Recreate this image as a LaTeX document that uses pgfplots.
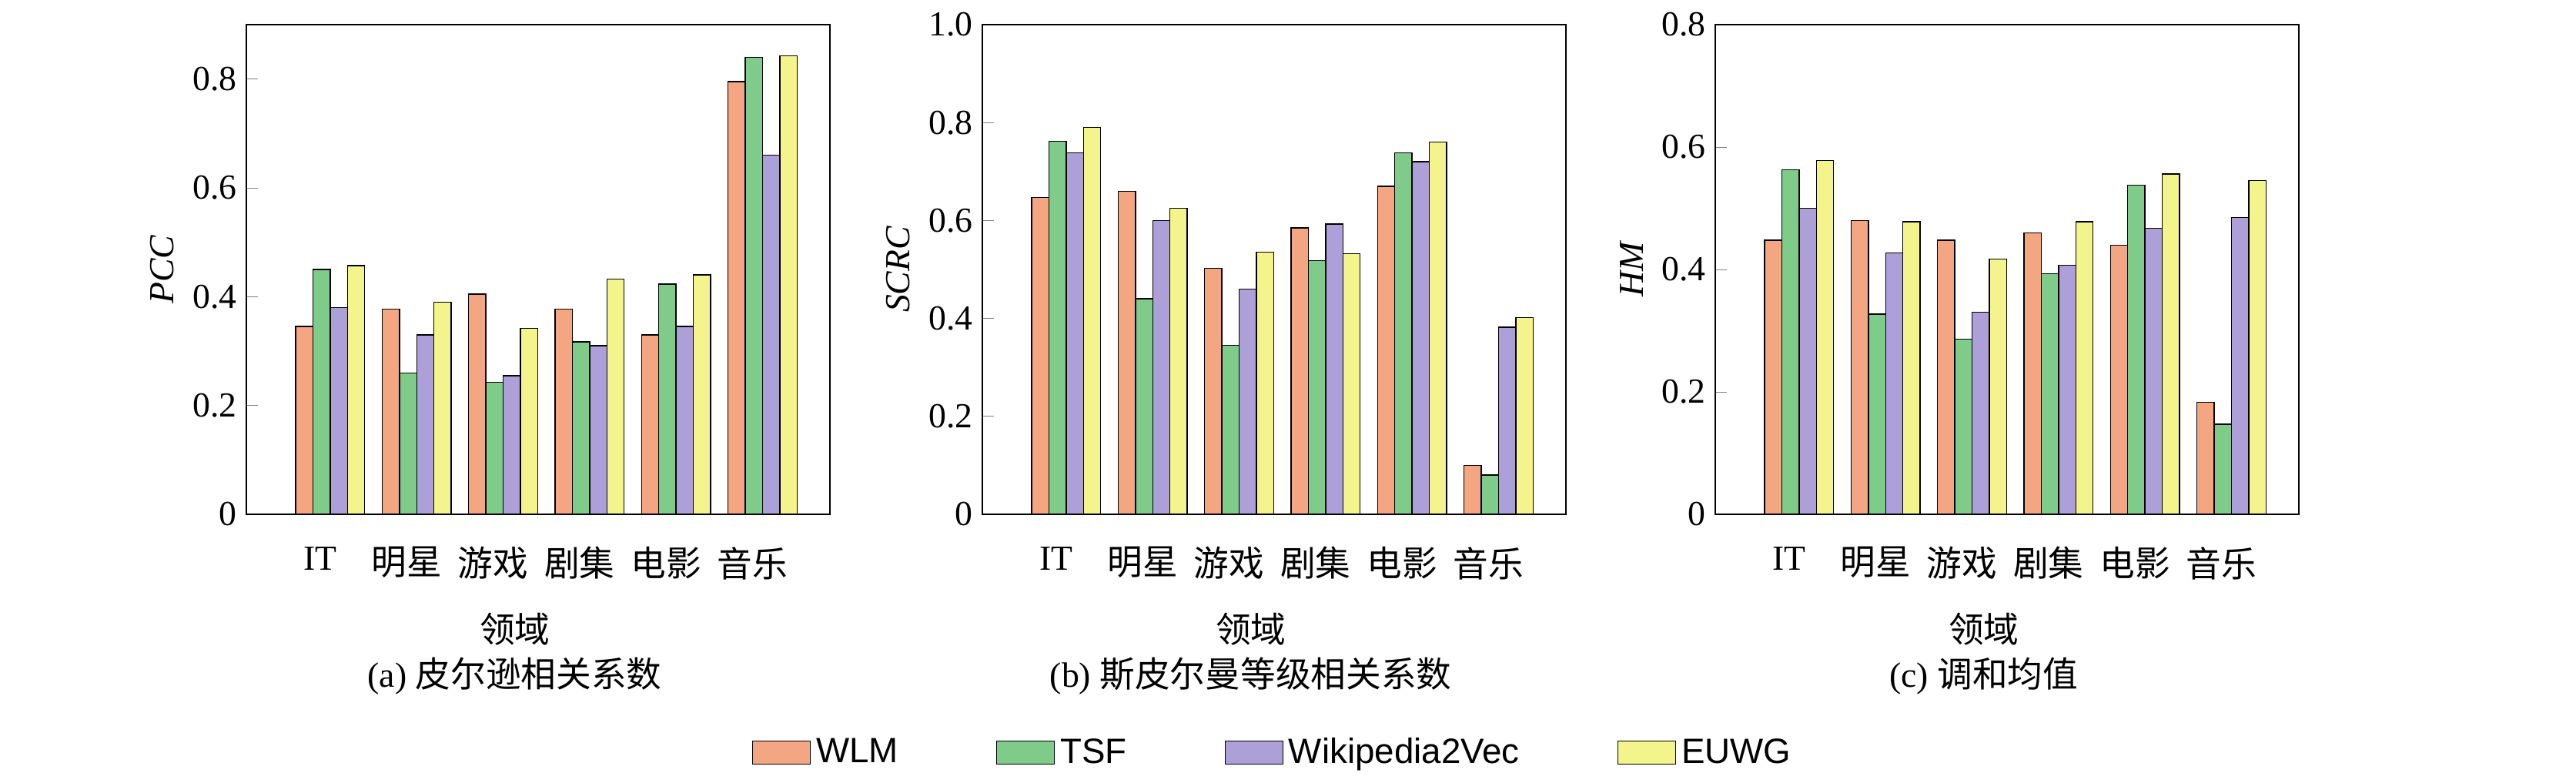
\documentclass[border=0pt]{standalone}
\usepackage{pgfplots}
\pgfplotsset{compat=1.18}
\usepackage{fontspec}
\setmainfont{Liberation Serif}
\newfontfamily\sans{Liberation Sans}
\newfontfamily\cjk{Noto Sans CJK SC}
\definecolor{cW}{HTML}{F4A582}
\definecolor{cT}{HTML}{7FCB8A}
\definecolor{cV}{HTML}{AD9FD8}
\definecolor{cE}{HTML}{F4F48C}
\pgfplotsset{
 mybar/.style={
  width=7.58cm, height=6.36cm, scale only axis,
  ybar=0pt, bar width=0.224cm,
  xmin=-0.97, xmax=5.78, ymin=0,
  xtick={0,1,2,3,4,5},
  xticklabels={IT,{\cjk 明星},{\cjk 游戏},{\cjk 剧集},{\cjk 电影},{\cjk 音乐}},
  x tick style={draw=none},
  xticklabel style={xshift=-0.13cm, yshift=-0.15cm},
  y tick label style={/pgf/number format/assume math mode=true},
  ytick align=inside, ytick pos=left,
  tick label style={font=\fontsize{13}{15}\selectfont\rmfamily},
  label style={font=\fontsize{13}{15}\selectfont},
  every axis plot/.append style={draw=black, line width=0.4pt},
  area legend,
  clip=false,
 }
}
\begin{document}
\begin{tikzpicture}
\path (-3.20,-3.48) rectangle (30.26,6.68);
% (a)
\begin{axis}[mybar, at={(0,0)}, ymax=0.9, ytick={0,0.2,0.4,0.6,0.8}, yticklabels={0,0.2,0.4,0.6,0.8},
 ylabel={\itshape PCC}]
\addplot[fill=cW] coordinates {(0,0.345)(1,0.377)(2,0.405)(3,0.377)(4,0.33)(5,0.795)};
\addplot[fill=cT] coordinates {(0,0.45)(1,0.26)(2,0.243)(3,0.317)(4,0.423)(5,0.84)};
\addplot[fill=cV] coordinates {(0,0.38)(1,0.33)(2,0.255)(3,0.31)(4,0.345)(5,0.66)};
\addplot[fill=cE] coordinates {(0,0.457)(1,0.39)(2,0.342)(3,0.432)(4,0.44)(5,0.843)};
\node[font=\fontsize{13}{15}\selectfont\cjk] at (rel axis cs:0.46,-0.235) {领域};
\node[font=\fontsize{13}{15}\selectfont] at (rel axis cs:0.46,-0.33) {(a) {\cjk 皮尔逊相关系数}};
\end{axis}
% (b)
\begin{axis}[mybar, at={(9.56cm,0)}, ymax=1.0, ytick={0,0.2,0.4,0.6,0.8,1.0}, yticklabels={0,0.2,0.4,0.6,0.8,1.0},
 ylabel={\itshape SCRC},
 legend style={at={(rel axis cs:0.5,-0.487)}, anchor=center, draw=none, legend columns=4,
   font=\fontsize{13}{15}\selectfont\sans, /tikz/every even column/.append style={column sep=1.2cm}},
 legend image code/.code={\draw[#1] (0cm,-0.15cm) rectangle (0.75cm,0.15cm);}]
\addplot[fill=cW] coordinates {(0,0.647)(1,0.66)(2,0.502)(3,0.585)(4,0.67)(5,0.1)};
\addplot[fill=cT] coordinates {(0,0.762)(1,0.44)(2,0.345)(3,0.518)(4,0.738)(5,0.08)};
\addplot[fill=cV] coordinates {(0,0.738)(1,0.6)(2,0.46)(3,0.593)(4,0.72)(5,0.382)};
\addplot[fill=cE] coordinates {(0,0.79)(1,0.625)(2,0.535)(3,0.532)(4,0.76)(5,0.402)};
\legend{WLM,TSF,Wikipedia2Vec,EUWG}
\node[font=\fontsize{13}{15}\selectfont\cjk] at (rel axis cs:0.46,-0.235) {领域};
\node[font=\fontsize{13}{15}\selectfont] at (rel axis cs:0.46,-0.33) {(b) {\cjk 斯皮尔曼等级相关系数}};
\end{axis}
% (c)
\begin{axis}[mybar, at={(19.08cm,0)}, ymax=0.8, ytick={0,0.2,0.4,0.6,0.8}, yticklabels={0,0.2,0.4,0.6,0.8},
 ylabel={\itshape HM}]
\addplot[fill=cW] coordinates {(0,0.448)(1,0.48)(2,0.448)(3,0.46)(4,0.44)(5,0.183)};
\addplot[fill=cT] coordinates {(0,0.563)(1,0.327)(2,0.286)(3,0.393)(4,0.538)(5,0.147)};
\addplot[fill=cV] coordinates {(0,0.5)(1,0.427)(2,0.33)(3,0.407)(4,0.467)(5,0.485)};
\addplot[fill=cE] coordinates {(0,0.578)(1,0.478)(2,0.417)(3,0.478)(4,0.556)(5,0.545)};
\node[font=\fontsize{13}{15}\selectfont\cjk] at (rel axis cs:0.46,-0.235) {领域};
\node[font=\fontsize{13}{15}\selectfont] at (rel axis cs:0.46,-0.33) {(c) {\cjk 调和均值}};
\end{axis}
\end{tikzpicture}
\end{document}
